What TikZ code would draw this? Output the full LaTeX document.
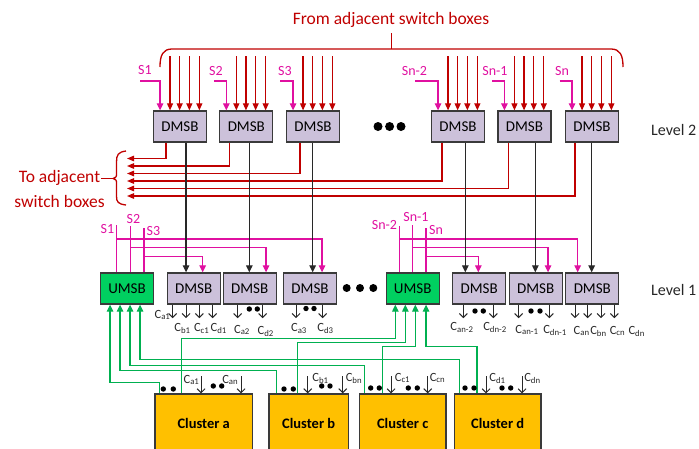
\documentclass[tikz,border=0pt]{standalone}
\usepackage{fontspec}
\setmainfont{Carlito}
\usetikzlibrary{arrows.meta}
\definecolor{dred}{RGB}{192,0,0}
\definecolor{mag}{RGB}{224,16,160}
\definecolor{gline}{RGB}{0,176,80}
\definecolor{ufill}{RGB}{0,208,96}
\definecolor{dfill}{RGB}{204,193,218}
\definecolor{cfill}{RGB}{255,192,0}
\definecolor{bgray}{RGB}{58,58,58}
\definecolor{kline}{RGB}{40,40,40}
\newcommand\cl[1]{C\textsubscript{#1}}
\begin{document}
\begin{tikzpicture}[x=1pt,y=-1pt,
  box/.style={draw=bgray,line width=1.3pt,minimum width=53pt,minimum height=31pt,inner sep=0pt,font=\fontsize{15}{16}\selectfont},
  dmsb/.style={box,fill=dfill},
  umsb/.style={box,fill=ufill},
  clusterbox/.style={draw=bgray,line width=1.3pt,fill=cfill,minimum height=58pt,inner sep=0pt,font=\bfseries\fontsize{14.5}{16}\selectfont},
  redarr/.style={dred,line width=1.2pt,-{Triangle[length=7pt,width=6pt]}},
  redback/.style={dred,line width=1.2pt,-{Triangle[length=7pt,width=5.5pt]}},
  pinkln/.style={mag,line width=1.2pt},
  pinkarr/.style={mag,line width=1.2pt,-{Triangle[length=7pt,width=6.5pt]}},
  blkarr/.style={kline,line width=1.2pt,-{Triangle[length=7pt,width=6.5pt]}},
  grnarr/.style={gline,line width=1.2pt,-{Triangle[length=7pt,width=6.5pt]}},
  outarr/.style={kline,line width=1pt,-{Straight Barb[length=4pt,width=8pt]}},
  slabel/.style={text=mag,font=\fontsize{14}{16}\selectfont,inner sep=0pt},
  clabel/.style={text=kline,font=\fontsize{12.5}{14}\selectfont,inner sep=0pt},
  redtext/.style={text=dred,font=\fontsize{17.5}{25.7}\selectfont,inner sep=0pt},
  lvl/.style={text=black!85,font=\fontsize{16}{18}\selectfont,inner sep=0pt},
  bracestyle/.style={dred,line width=1.3pt},
]
\useasboundingbox (0,0) rectangle (699,448);
\clip (0,0) rectangle (699,448);

% ---------------- Level 2 ----------------
\node[redtext] (from) at (391,20) {From adjacent switch boxes};
\draw[bracestyle] (160,67) .. controls (160,55) and (163,49) .. (172,49) -- (611,49) .. controls (620,49) and (623,55) .. (623,67);
\draw[bracestyle] (391.5,49) -- (391.5,33);

\node[dmsb] (L2a) at (180,126.5) {DMSB};
\node[dmsb] (L2b) at (246.3,126.5) {DMSB};
\node[dmsb] (L2c) at (313,126.5) {DMSB};
\node[dmsb] (L2d) at (458,126.5) {DMSB};
\node[dmsb] (L2e) at (524.4,126.5) {DMSB};
\node[dmsb] (L2f) at (592,126.5) {DMSB};

\foreach \b in {L2a,L2b,L2c,L2d,L2e,L2f}{
  \foreach \o in {17.2,26.8,36.5,46.5}{
    \draw[redarr] ([xshift=\o pt,yshift=54pt]\b.north west) -- ([xshift=\o pt]\b.north west);
  }
}

\node[slabel] (tS1) at (145,70.5) {S1};
\node[slabel] (tS2) at (216,71) {S2};
\node[slabel] (tS3) at (285,71) {S3};
\node[slabel] (tSn2) at (414.5,71) {Sn-2};
\node[slabel] (tSn1) at (495,71) {Sn-1};
\node[slabel] (tSn) at (562,71) {Sn};
\coordinate (p1) at (140,81);
\coordinate (p2) at (214,81);
\coordinate (p3) at (280,81);
\coordinate (p4) at (415.4,81);
\coordinate (p5) at (492,81);
\coordinate (p6) at (559.6,81);
\draw[pinkarr] (p1) -| ([xshift=7.2pt]L2a.north west);
\draw[pinkarr] (p2) -| ([xshift=7.2pt]L2b.north west);
\draw[pinkarr] (p3) -| ([xshift=7.2pt]L2c.north west);
\draw[pinkarr] (p4) -| ([xshift=7.2pt]L2d.north west);
\draw[pinkarr] (p5) -| ([xshift=7.2pt]L2e.north west);
\draw[pinkarr] (p6) -| ([xshift=7.2pt]L2f.north west);

\foreach \x in {378,389.6,401}{\fill[black] (\x,126.5) circle (4.5pt);}
\node[lvl,anchor=west] (lv2) at (651,130) {Level 2};

% ---------------- To adjacent switch boxes ----------------
\node[redtext,align=center] (toadj) at (59.5,189) {To adjacent\\switch boxes};
\draw[bracestyle] (101,178.5) -- (113,178.5);
\draw[bracestyle] (126,151) .. controls (118,152) and (116.5,155) .. (116.5,162) -- (116.5,173) .. controls (116.5,177) .. (113,178.5) .. controls (116.5,180) .. (116.5,184) -- (116.5,196) .. controls (116.5,202) and (118,204) .. (126,205);

\coordinate (r1) at (127,158.5);
\coordinate (r2) at (127,166);
\coordinate (r3) at (127,173.5);
\coordinate (r4) at (127,181);
\coordinate (r5) at (127,188.5);
\coordinate (r6) at (127,196);
\draw[redback] ([xshift=13.2pt]L2a.south west) |- (r1);
\draw[redback] ([xshift=10.2pt]L2b.south west) |- (r2);
\draw[redback] ([xshift=14.2pt]L2c.south west) |- (r3);
\draw[redback] ([xshift=11.2pt]L2d.south west) |- (r4);
\draw[redback] ([xshift=11.1pt]L2e.south west) |- (r5);
\draw[redback] ([xshift=10.2pt]L2f.south west) |- (r6);

% ---------------- Level 1 ----------------
\node[umsb] (U1) at (127,288.5) {UMSB};
\node[dmsb] (D1) at (193.7,288.5) {DMSB};
\node[dmsb] (D2) at (249.7,288.5) {DMSB};
\node[dmsb] (D3) at (310,288.5) {DMSB};
\node[umsb] (U2) at (412.7,288.5) {UMSB};
\node[dmsb] (D4) at (479.2,288.5) {DMSB};
\node[dmsb] (D5) at (535.7,288.5) {DMSB};
\node[dmsb] (D6) at (592.3,288.5) {DMSB};
\foreach \x in {346.7,360,373.3}{\fill[black] (\x,288) circle (4pt);}
\node[lvl,anchor=west] (lv1) at (651,290) {Level 1};

% pink selection lines
\node[slabel] (S1) at (107.5,229) {S1};
\node[slabel] (S2) at (133.5,219) {S2};
\node[slabel] (S3) at (153.5,231) {S3};
\node[slabel] (Sn2) at (384.5,225) {Sn-2};
\node[slabel] (Sn1) at (416,217) {Sn-1};
\node[slabel] (Sn) at (436,230) {Sn};
\coordinate (q1) at (116.7,225);
\coordinate (q2) at (130.7,226);
\coordinate (q3) at (144,228);
\coordinate (q4) at (399.3,226);
\coordinate (q5) at (412.7,225);
\coordinate (q6) at (426,228);
\foreach \q/\u in {q1/U1,q2/U1,q3/U1,q4/U2,q5/U2,q6/U2}{\draw[pinkln] (\q) -- (\q |- \u.north);}
\draw[pinkarr] (q1 |- 0,239) -| ([xshift=39.2pt]D3.north west);
\draw[pinkarr] (q2 |- 0,247.7) -| ([xshift=43.5pt]D2.north west);
\draw[pinkarr] (q3 |- 0,256.7) -| ([xshift=36.1pt]D1.north west);
\draw[pinkarr] (q4 |- 0,239) -| ([xshift=12.5pt]D6.north west);
\draw[pinkarr] (q5 |- 0,247.7) -| ([xshift=39.5pt]D5.north west);
\draw[pinkarr] (q6 |- 0,256.7) -| ([xshift=26.3pt]D4.north west);

% black lines level 2 -> level 1
\draw[blkarr] ([xshift=33.2pt]L2a.south west) coordinate (k1) -- (k1 |- D1.north);
\draw[blkarr] ([xshift=30.2pt]L2b.south west) coordinate (k2) -- (k2 |- D2.north);
\draw[blkarr] ([xshift=26.8pt]L2c.south west) coordinate (k3) -- (k3 |- D3.north);
\draw[blkarr] ([xshift=34.5pt]L2d.south west) coordinate (k4) -- (k4 |- D4.north);
\draw[blkarr] ([xshift=38.1pt]L2e.south west) coordinate (k5) -- (k5 |- D5.north);
\draw[blkarr] ([xshift=26.8pt]L2f.south west) coordinate (k6) -- (k6 |- D6.north);

% outputs of level-1 DMSBs
\foreach \b/\o in {D1/6.1,D1/19.5,D1/32.8,D1/46.1,D2/15.1,D2/40.1,D3/13.2,D3/39.8,D4/11.3,D4/41.3,D5/10.1,D5/40.8,D6/9.9,D6/22.5,D6/35.9,D6/49.2}{
  \draw[outarr] ([xshift=\o pt]\b.south west) -- ++(0,13.5);
}
\foreach \x/\y in {249.3/309,257.3/309,306/308.5,314/308.5,475/311,483.3/311,531/311,540/311}{\fill[black] (\x,\y) circle (2.7pt);}
\node[clabel] (o1) at (162.5,315) {\cl{a1}};
\node[clabel] (o2) at (182.5,328.5) {\cl{b1}};
\node[clabel] (o3) at (201.7,328.5) {\cl{c1}};
\node[clabel] (o4) at (218.7,328.5) {\cl{d1}};
\node[clabel] (o5) at (242,330) {\cl{a2}};
\node[clabel] (o6) at (265.7,331) {\cl{d2}};
\node[clabel] (o7) at (299,328.5) {\cl{a3}};
\node[clabel] (o8) at (325.5,328.5) {\cl{d3}};
\node[clabel] (o9) at (462,327.5) {\cl{an-2}};
\node[clabel] (o10) at (495,327.5) {\cl{dn-2}};
\node[clabel] (o11) at (527,330) {\cl{an-1}};
\node[clabel] (o12) at (555,330) {\cl{dn-1}};
\node[clabel] (o13) at (581.7,331) {\cl{an}};
\node[clabel] (o14) at (598.5,331) {\cl{bn}};
\node[clabel] (o15) at (617.5,331) {\cl{cn}};
\node[clabel] (o16) at (636.7,331) {\cl{dn}};

% ---------------- Clusters ----------------
\node[clusterbox,minimum width=97.3pt] (Ca) at (203.7,423) {Cluster a};
\node[clusterbox,minimum width=79.3pt] (Cb) at (308.7,423) {Cluster b};
\node[clusterbox,minimum width=86.7pt] (Cc) at (402.7,423) {Cluster c};
\node[clusterbox,minimum width=86.7pt] (Cd) at (497.7,423) {Cluster d};

% green feedback lines
\draw[grnarr] ([xshift=5pt]Ca.north west) -- ++(0,-11) -| ([xshift=10.2pt]U1.south west);
\draw[grnarr] ([xshift=8pt]Cb.north west) -- ++(0,-23) -| ([xshift=20.2pt]U1.south west);
\draw[grnarr] ([xshift=5.7pt]Cc.north west) -- ++(0,-28) -| ([xshift=30.2pt]U1.south west);
\draw[grnarr] ([xshift=5.7pt]Cd.north west) -- ++(0,-33.5) -| ([xshift=40.2pt]U1.south west);
\draw[grnarr] ([xshift=27pt]Ca.north west) -- ++(0,-54.5) -| ([xshift=9.8pt]U2.south west);
\draw[grnarr] ([xshift=29.3pt]Cb.north west) -- ++(0,-50.7) -| ([xshift=19.8pt]U2.south west);
\draw[grnarr] ([xshift=24pt]Cc.north west) -- ++(0,-47) -| ([xshift=29.8pt]U2.south west);
\draw[grnarr] ([xshift=23.2pt]Cd.north west) -- ++(0,-47) -| ([xshift=40.5pt]U2.south west);

% cluster inputs
\foreach \b/\o in {Ca/46.7,Ca/86.7,Cb/39.3,Cb/74.3,Cc/32.4,Cc/69,Cd/32.4,Cd/68.4}{
  \draw[outarr] ([xshift=\o pt,yshift=17pt]\b.north west) -- ([xshift=\o pt]\b.north west);
}
\foreach \x/\y in {163.3/389,173.3/389,213.3/386,221.7/386,284/389,293.3/389,321.7/386,330/386,370.7/388,379.3/388,408.3/388,417.3/388,465/388,474/388,502/388,510.7/388}{\fill[black] (\x,\y) circle (2.7pt);}
\node[clabel] (i1) at (191.5,380) {\cl{a1}};
\node[clabel] (i2) at (230.3,380) {\cl{an}};
\node[clabel] (i3) at (320.5,378) {\cl{b1}};
\node[clabel] (i4) at (354,378) {\cl{bn}};
\node[clabel] (i5) at (402.5,378) {\cl{c1}};
\node[clabel] (i6) at (437.5,378) {\cl{cn}};
\node[clabel] (i7) at (497.5,378) {\cl{d1}};
\node[clabel] (i8) at (532.5,378) {\cl{dn}};
\end{tikzpicture}
\end{document}
